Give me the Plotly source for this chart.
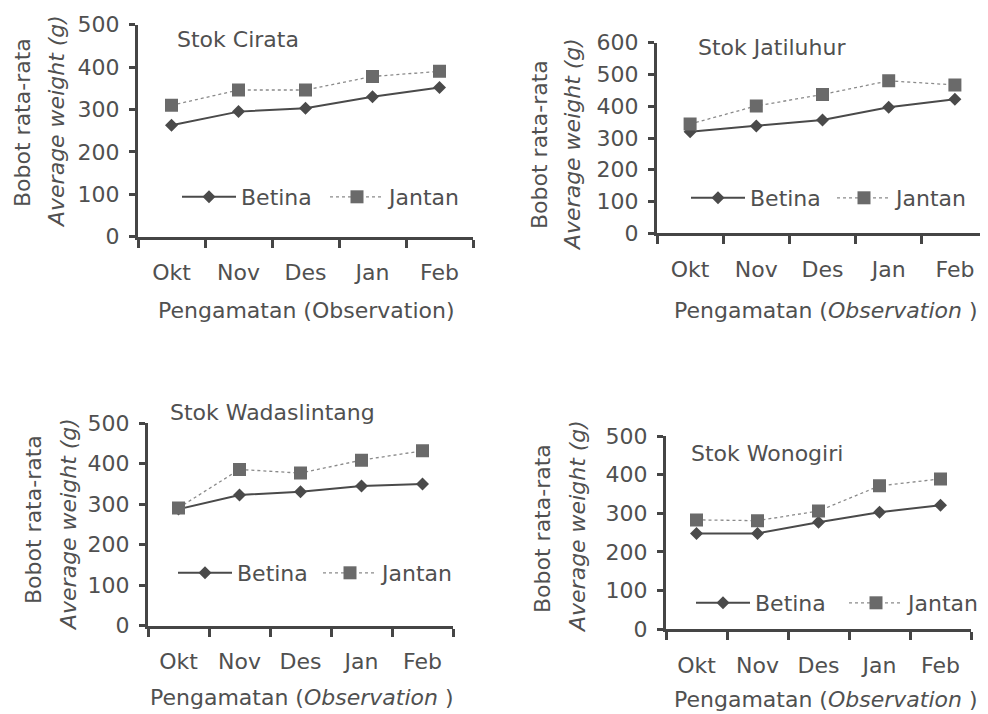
import plotly.graph_objects as go

months = ["Okt", "Nov", "Des", "Jan", "Feb"]

cirata_betina = [263, 295, 303, 330, 352]
cirata_jantan = [310, 346, 346, 378, 390]
jatiluhur_betina = [320, 338, 357, 397, 422]
jatiluhur_jantan = [344, 401, 437, 480, 467]
wadas_betina = [288, 323, 331, 345, 350]
wadas_jantan = [291, 386, 377, 409, 432]
wonogiri_betina = [248, 248, 277, 303, 321]
wonogiri_jantan = [283, 281, 306, 371, 389]

titles = ["Stok Cirata", "Stok Jatiluhur", "Stok Wadaslintang", "Stok Wonogiri"]
ymax = [500, 600, 500, 500]
xtitles = ["Pengamatan (Observation)",
           "Pengamatan (<i>Observation</i> )",
           "Pengamatan (<i>Observation</i> )",
           "Pengamatan (<i>Observation</i> )"]

# page body has an 8px margin: figure sized to fit the window exactly
OFF = 8
W, H = 988 - OFF, 714 - OFF
FONT = "DejaVu Sans"
FS = 22
TXT = "#505050"
AX = "#454545"

def px(x):
    return (x - OFF) / W

def py(y):
    return 1 - (y - OFF) / H

# panel geometry in window pixels: (x0, x1, ytop, ybottom)
panels = [(138, 473, 24.7, 236.7), (657, 988, 42.7, 233.3),
          (148, 453, 423.3, 625.7), (666, 971, 436, 629.3)]
series = [(cirata_betina, cirata_jantan), (jatiluhur_betina, jatiluhur_jantan),
          (wadas_betina, wadas_jantan), (wonogiri_betina, wonogiri_jantan)]
# legend item origins (x Betina, x Jantan, y)
legpos = [(177, 325, 197), (686, 832, 198), (173, 318, 573), (691, 844, 603)]
title_pos = [(175, 39), (696, 47), (168, 412), (689, 453)]
ytitle_pos = [((23, 123), (57, 122)), ((539, 145), (572, 145)),
              ((33, 520), (68, 525)), ((542, 529), (577, 527))]
xtitle_pos = [(306, 310), (826, 310), (302, 697), (826, 699)]

fig = go.Figure()
layout = dict(width=W, height=H, autosize=False,
              margin=dict(l=0, r=0, t=0, b=0, pad=0),
              paper_bgcolor="white", plot_bgcolor="white",
              font=dict(family=FONT, size=FS, color=TXT),
              showlegend=True)
annotations = []
leg_i = 0
for i in range(4):
    sfx = "" if i == 0 else str(i + 1)
    x0, x1, yt, yb = panels[i]
    betina, jantan = series[i]
    for name, vals, sym, msize, mcol, lcol, lw, dash in [
        ("Betina", betina, "diamond", 10, "#4a4a4a", "#4a4a4a", 2, "solid"),
        ("Jantan", jantan, "square", 13, "#6a6a6a", "#8a8a8a", 1.3, "dot"),
    ]:
        leg_i += 1
        lname = "legend" if leg_i == 1 else "legend%d" % leg_i
        fig.add_trace(go.Scatter(
            x=months, y=vals, name=name, mode="lines+markers",
            xaxis="x" + sfx, yaxis="y" + sfx, legend=lname,
            line=dict(color=lcol, width=lw, dash=dash),
            marker=dict(symbol=sym, size=msize, color=mcol,
                        line=dict(width=0)),
        ))
        lx = legpos[i][0] if name == "Betina" else legpos[i][1]
        layout[lname] = dict(x=px(lx), y=py(legpos[i][2]), xanchor="left",
                             yanchor="middle", orientation="h",
                             bgcolor="rgba(0,0,0,0)", borderwidth=0,
                             itemwidth=54, font=dict(family=FONT, size=FS, color=TXT),
                             itemclick=False)
    layout["xaxis" + sfx] = dict(
        domain=[px(x0), min(px(x1), 1.0)], anchor="y" + sfx,
        type="category", tickson="boundaries", range=[-0.5, 4.5],
        showline=True, linecolor=AX, linewidth=3,
        ticks="outside", ticklen=8, tickwidth=2.5, tickcolor=AX,
        ticklabelstandoff=14, showgrid=False, zeroline=False, automargin=False,
        tickfont=dict(family=FONT, size=FS, color=TXT))
    layout["yaxis" + sfx] = dict(
        domain=[py(yb), py(yt)], anchor="x" + sfx,
        range=[0, ymax[i]], dtick=100, tick0=0,
        showline=True, linecolor=AX, linewidth=3,
        ticks="outside", ticklen=6, tickwidth=2.5, tickcolor=AX,
        ticklabelstandoff=5, showgrid=False, zeroline=False, automargin=False,
        tickfont=dict(family=FONT, size=FS, color=TXT))
    tx, ty = title_pos[i]
    annotations.append(dict(text=titles[i], x=px(tx), y=py(ty), xref="paper", yref="paper",
                            xanchor="left", yanchor="middle", showarrow=False,
                            font=dict(family=FONT, size=FS, color=TXT)))
    (ax1, ay1), (ax2, ay2) = ytitle_pos[i]
    annotations.append(dict(text="Bobot rata-rata", x=px(ax1), y=py(ay1), xref="paper", yref="paper",
                            xanchor="center", yanchor="middle", textangle=-90, showarrow=False,
                            font=dict(family=FONT, size=FS, color=TXT)))
    annotations.append(dict(text="<i>Average weight (g)</i>", x=px(ax2), y=py(ay2), xref="paper", yref="paper",
                            xanchor="center", yanchor="middle", textangle=-90, showarrow=False,
                            font=dict(family=FONT, size=FS, color=TXT)))
    xx, xy = xtitle_pos[i]
    annotations.append(dict(text=xtitles[i], x=px(xx), y=py(xy), xref="paper", yref="paper",
                            xanchor="center", yanchor="middle", showarrow=False,
                            font=dict(family=FONT, size=FS, color=TXT)))

layout["annotations"] = annotations
fig.update_layout(**layout)
fig.write_html("out.html")
